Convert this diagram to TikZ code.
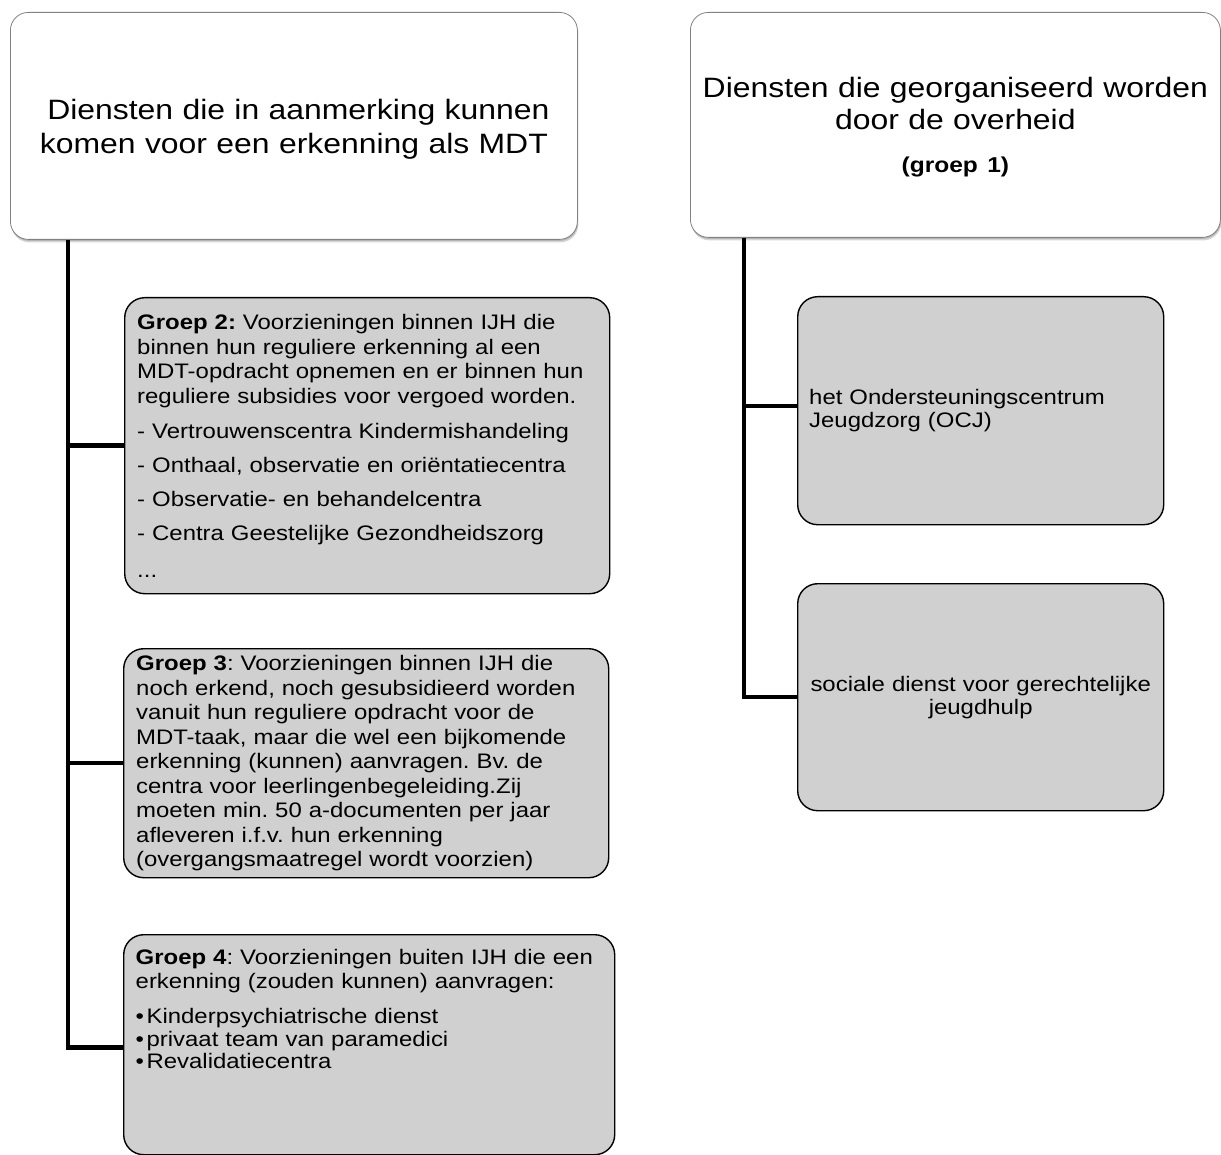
\documentclass[tikz,border=0pt]{standalone}
\usepackage{fontspec}
\setmainfont{Liberation Sans}[FakeStretch=1.14]
\usetikzlibrary{shadows}
\definecolor{boxgray}{RGB}{208,208,208}
\definecolor{topborder}{RGB}{130,130,130}
\frenchspacing
\tikzset{
  topbox/.style={draw=topborder, line width=0.8pt, fill=white, rounded corners=18pt,
    anchor=north west, align=center, inner xsep=6pt, inner ysep=2pt,
    drop shadow={shadow xshift=1pt, shadow yshift=-3pt, opacity=0.16, fill=black},
    drop shadow={shadow xshift=0.5pt, shadow yshift=-1.5pt, opacity=0.16, fill=black}},
  graybox/.style={draw=black, line width=1.4pt, fill=boxgray, rounded corners=20pt,
    anchor=north west, align=left, inner xsep=12.5pt, inner ysep=3pt,
    font=\fontsize{21}{24.6}\selectfont\frenchspacing},
  conn/.style={line width=4.5pt, draw=black, line join=miter},
}
\newcommand{\blt}{•\hspace{2.5pt}}
\begin{document}
\begin{tikzpicture}[x=1pt,y=-1pt]
\useasboundingbox (0,0) rectangle (1221,1155);

% top boxes
\node[topbox, minimum width=567pt, minimum height=227pt, text width=555pt,
      font=\fontsize{28}{34}\selectfont] (t1) at (10,12)
  {\rule{0pt}{27pt}\hspace*{9pt}Diensten die in aanmerking kunnen\\komen voor een erkenning als MDT};
\node[topbox, minimum width=530pt, minimum height=225pt, text width=518pt,
      font=\fontsize{28}{32}\selectfont] (t2) at (690,12)
  {\rule{0pt}{25pt}Diensten die georganiseerd worden\\door de overheid\\[11.5pt]{\fontsize{21.5}{24}\selectfont\bfseries (groep 1)}};

% left column
\node[graybox, minimum width=485pt, minimum height=296pt, text width=460pt] (g2) at (124,297)
  {\textbf{Groep 2:} Voorzieningen binnen IJH die\\binnen hun reguliere erkenning al een\\MDT-opdracht opnemen en er binnen hun\\reguliere subsidies voor vergoed worden.\\[10.4pt]- Vertrouwenscentra Kindermishandeling\\[9.4pt]- Onthaal, observatie en oriëntatiecentra\\[9.4pt]- Observatie- en behandelcentra\\[9.4pt]- Centra Geestelijke Gezondheidszorg\\[12.4pt]...};
\node[graybox, minimum width=485pt, minimum height=229pt, text width=460pt,
      font=\fontsize{21}{24.5}\selectfont\frenchspacing] (g3) at (123,648)
  {\textbf{Groep 3}: Voorzieningen binnen IJH die\\noch erkend, noch gesubsidieerd worden\\vanuit hun reguliere opdracht voor de\\MDT-taak, maar die wel een bijkomende\\erkenning (kunnen) aanvragen. Bv. de\\centra voor leerlingenbegeleiding.Zij\\moeten min. 50 a-documenten per jaar\\afleveren i.f.v. hun erkenning\\(overgangsmaatregel wordt voorzien)};
\node[graybox, minimum width=491pt, minimum height=220pt, text width=467pt, inner xsep=12pt] (g4) at (123,934)
  {\textbf{Groep 4}: Voorzieningen buiten IJH die een\\erkenning (zouden kunnen) aanvragen:\\[10pt]\blt Kinderpsychiatrische dienst\\[-1.6pt]\blt privaat team van paramedici\\[-2.6pt]\blt Revalidatiecentra\rule[-72pt]{0pt}{1pt}};

% right column
\node[graybox, minimum width=366pt, minimum height=228pt, text width=343pt, inner xsep=11.5pt,
      font=\fontsize{21}{23.5}\selectfont\frenchspacing] (ocj) at (797,296)
  {het Ondersteuningscentrum\\Jeugdzorg (OCJ)};
\node[graybox, minimum width=366pt, minimum height=227pt, text width=350pt, inner xsep=8pt,
      align=center, font=\fontsize{21}{23}\selectfont\frenchspacing] (soc) at (797,583)
  {sociale dienst voor gerechtelijke\\jeugdhulp};

% connectors
\coordinate (sL) at ([xshift=58pt]t1.south west);
\coordinate (sR) at ([xshift=54pt]t2.south west);
\draw[conn] (sL) |- (g2.west);
\draw[conn] (sL) |- (g3.west);
\draw[conn] (sL) |- ([yshift=-3pt]g4.west);
\draw[conn] (sR) |- ([yshift=4.5pt]ocj.west);
\draw[conn] (sR) |- (soc.west);
\end{tikzpicture}
\end{document}
